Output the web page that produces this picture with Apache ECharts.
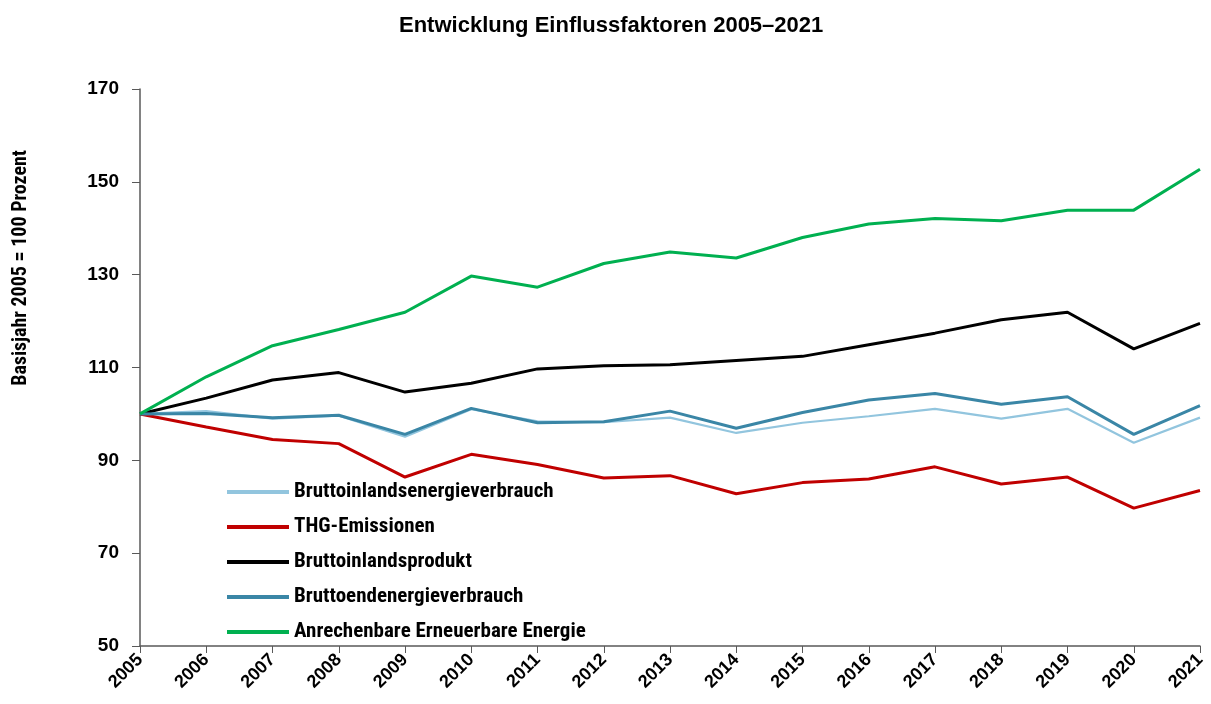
<!DOCTYPE html>
<html><head><meta charset="utf-8">
<script src="https://cdn.jsdelivr.net/npm/echarts@6/dist/echarts.min.js"></script>
<style>html,body{margin:0;padding:0;background:#fff}#c{width:1211px;height:704px}</style>
</head><body><div id="c"></div>
<script>
const years = ['2005','2006','2007','2008','2009','2010','2011','2012','2013','2014','2015','2016','2017','2018','2019','2020','2021'];
const bruttoinlandsenergie = [100,100.6,99.0,99.6,95.1,101.0,98.4,98.2,99.2,95.9,98.1,99.5,101.1,99.0,101.1,93.8,99.2];
const thg = [100,97.2,94.5,93.6,86.4,91.3,89.1,86.2,86.7,82.8,85.2,86.0,88.6,84.9,86.4,79.7,83.5];
const bip = [100,103.4,107.3,108.9,104.7,106.6,109.7,110.4,110.6,111.5,112.4,114.9,117.4,120.3,121.9,114.0,119.5];
const bruttoendenergie = [100,100.1,99.2,99.7,95.6,101.2,98.1,98.3,100.6,96.9,100.3,103.0,104.4,102.1,103.7,95.6,101.8];
const erneuerbare = [100,108.0,114.7,118.2,121.9,129.7,127.3,132.4,134.9,133.6,138.0,140.9,142.1,141.6,143.9,143.9,152.7];
const yTicks = {min:50, max:170, interval:20};

const narrow = "'Liberation Sans Narrow','Arial Narrow','Roboto Condensed',sans-serif";
const wide = "'Liberation Sans',Arial,sans-serif";
const chart = echarts.init(document.getElementById('c'), null, {renderer:'canvas'});
function line(name, data, color, width){
  return {name, type:'line', data, showSymbol:false, symbol:'none', smooth:false,
    lineStyle:{color, width}, itemStyle:{color}, animation:false};
}
chart.setOption({
  animation:false,
  title:{text:'Entwicklung Einflussfaktoren 2005–2021', left:394, top:10,
    textStyle:{fontFamily:wide, fontSize:22, fontWeight:'bold', color:'#000'}},
  grid:{left:140, right:11, top:89, bottom:58, containLabel:false},
  legend:{orient:'vertical', left:222, top:475, itemWidth:62, itemHeight:4, itemGap:11, icon:'rect',
    textStyle:{fontFamily:narrow, fontSize:21, fontWeight:'bold', color:'#000', lineHeight:24},
    data:['Bruttoinlandsenergieverbrauch','THG-Emissionen','Bruttoinlandsprodukt','Bruttoendenergieverbrauch','Anrechenbare Erneuerbare Energie']},
  xAxis:{type:'category', data:years, boundaryGap:false,
    axisLine:{lineStyle:{color:'#595959', width:1.5}},
    axisTick:{show:true, length:7, lineStyle:{color:'#595959'}},
    axisLabel:{rotate:45, fontFamily:wide, fontSize:18, fontWeight:'bold', color:'#000', margin:11, interval:0}},
  yAxis:{type:'value', min:yTicks.min, max:yTicks.max, interval:yTicks.interval,
    splitLine:{show:false},
    axisLine:{show:true, lineStyle:{color:'#595959', width:1.5}},
    axisTick:{show:true, inside:false, length:8, lineStyle:{color:'#595959'}},
    axisLabel:{fontFamily:wide, fontSize:19, fontWeight:'bold', color:'#000', margin:21}},
  graphic:[{type:'text', left:11, top:150, rotation:Math.PI/2,
    style:{text:'Basisjahr 2005 = 100 Prozent', font:"bold 20px 'Liberation Sans Narrow','Arial Narrow','Roboto Condensed',sans-serif", fill:'#000'}}],
  series:[
    line('Bruttoinlandsenergieverbrauch', bruttoinlandsenergie, '#92C5DE', 2.2),
    line('THG-Emissionen', thg, '#C00000', 3),
    line('Bruttoinlandsprodukt', bip, '#000000', 3),
    line('Bruttoendenergieverbrauch', bruttoendenergie, '#3A86A6', 3),
    line('Anrechenbare Erneuerbare Energie', erneuerbare, '#00B050', 3)
  ]
});
</script></body></html>
